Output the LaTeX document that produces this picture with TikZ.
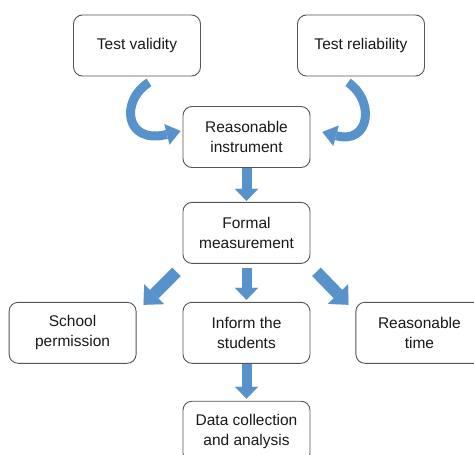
\documentclass[tikz,border=0pt]{standalone}
\usepackage{fontspec}
\setmainfont{Liberation Sans}
\usetikzlibrary{positioning, arrows.meta}
\definecolor{arrowblue}{RGB}{88,146,202}
\definecolor{boxline}{RGB}{85,85,85}
\tikzset{
  box/.style={draw=boxline, line width=0.9pt, rounded corners=9pt, fill=white,
    minimum width=127pt, minimum height=61pt, inner sep=0pt, align=center,
    font=\fontsize{15.5}{20}\selectfont, text=black!90},
  blockarrow/.style={draw=arrowblue, line width=10pt,
    -{Triangle[width=23pt, length=12pt, line width=0.01pt]}},
  widearrow/.style={blockarrow, line width=12pt,
    -{Triangle[width=28pt, length=15pt, line width=0.01pt]}},
  curvearrow/.style={blockarrow, line width=9pt,
    -{Triangle[width=21pt, length=14pt, line width=0.01pt]}},
}

\begin{document}
\begin{tikzpicture}
  \useasboundingbox (0,0) rectangle (474pt,-455pt);

  % boxes
  \node[box] (ri) at (246.5pt,-137pt) {Reasonable\\instrument};
  \node[box] (tv) at (137pt,-45.5pt) {Test validity};
  \node[box] (tr) at (361pt,-45.5pt) {Test reliability};
  \node[box, below=34pt of ri] (fm) {Formal\\measurement};
  \node[box, below=38pt of fm] (inf) {Inform the\\students};
  \node[box, left=46pt of inf] (sp) {School\\permission};
  \node[box, right=45pt of inf] (rt) {Reasonable\\time};
  \node[box, below=37pt of inf] (dc) {Data collection\\and analysis};

  % curved arrows
  \draw[curvearrow] ([shift={(12pt,-6pt)}]tv.south)
    .. controls +(-29pt,-18pt) and +(-56pt,-14pt) .. ([shift={(-2pt,6pt)}]ri.west);
  \draw[curvearrow] ([shift={(-13pt,-6pt)}]tr.south)
    .. controls +(27pt,-18pt) and +(48pt,-13pt) .. ([shift={(12pt,5pt)}]ri.east);

  % block arrows
  \draw[blockarrow] (ri.south) -- ([yshift=1pt]fm.north);
  \draw[blockarrow] ([yshift=-4pt]fm.south) -- ([yshift=2pt]inf.north);
  \draw[blockarrow] (inf.south) -- ([yshift=2pt]dc.north);
  \draw[widearrow] ([shift={(-6pt,-8pt)}]fm.south west) -- ([shift={(7pt,-3pt)}]sp.north east);
  \draw[widearrow] ([shift={(6pt,-8pt)}]fm.south east) -- ([shift={(-7pt,-3pt)}]rt.north west);
\end{tikzpicture}
\end{document}
